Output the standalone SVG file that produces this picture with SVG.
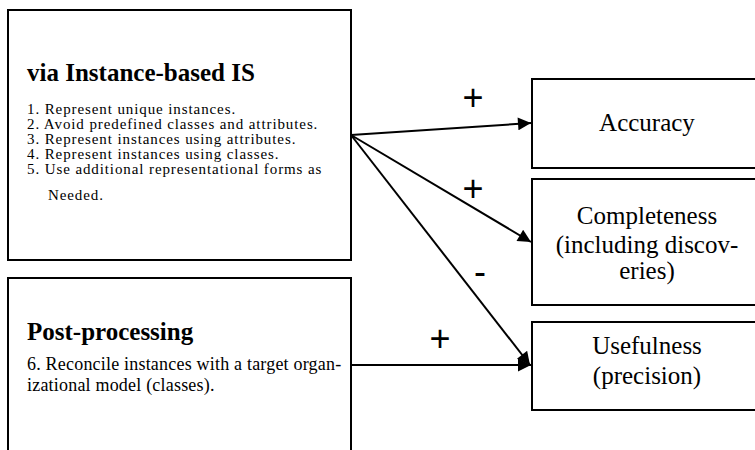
<svg xmlns="http://www.w3.org/2000/svg" width="755" height="450" viewBox="0 0 755 450">
  <style>
    .box { fill: #ffffff; stroke: #000000; stroke-width: 2; }
    .title { font-family: "Liberation Serif", "Times New Roman", serif; font-weight: bold; font-size: 25px; fill: #000; }
    .item { font-family: "Liberation Serif", "Times New Roman", serif; font-size: 15px; letter-spacing: 0.9px; fill: #000; }
    .body { font-family: "Liberation Serif", "Times New Roman", serif; font-size: 18px; letter-spacing: 0.2px; fill: #000; }
    .outcome { font-family: "Liberation Serif", "Times New Roman", serif; font-size: 25px; fill: #000; text-anchor: middle; }
    .sign { font-family: "Liberation Sans", Arial, sans-serif; font-size: 36px; fill: #000; text-anchor: middle; }
    .link { fill: none; stroke: #000000; stroke-width: 2; marker-end: url(#arrow); }
  </style>
  <defs>
    <marker id="arrow" viewBox="0 0 10 10" refX="10" refY="5" markerWidth="7.5" markerHeight="6.5" markerUnits="strokeWidth" orient="auto">
      <path d="M0,0 L10,5 L0,10 z" fill="#000"/>
    </marker>
  </defs>

  <rect width="755" height="450" fill="#ffffff"/>

  <g id="instance-based-is">
    <rect class="box" x="8" y="10" width="343" height="250"/>
    <text class="title" x="27" y="81">via Instance-based IS</text>
    <text class="item" x="27" y="114">1. Represent unique instances.</text>
    <text class="item" x="27" y="129">2. Avoid predefined classes and attributes.</text>
    <text class="item" x="27" y="144">3. Represent instances using attributes.</text>
    <text class="item" x="27" y="159">4. Represent instances using classes.</text>
    <text class="item" x="27" y="174">5. Use additional representational forms as</text>
    <text class="item" x="48" y="200">Needed.</text>
  </g>

  <g id="post-processing">
    <rect class="box" x="8" y="278" width="343" height="185"/>
    <text class="title" x="27" y="340">Post-processing</text>
    <text class="body" x="27" y="370">6. Reconcile instances with a target organ-</text>
    <text class="body" x="27" y="391">izational model (classes).</text>
  </g>

  <g id="accuracy">
    <rect class="box" x="532" y="79" width="240" height="89"/>
    <text class="outcome" x="647" y="131">Accuracy</text>
  </g>

  <g id="completeness">
    <rect class="box" x="532" y="179" width="240" height="126"/>
    <text class="outcome" x="647" y="224">Completeness</text>
    <text class="outcome" x="647" y="253">(including discov-</text>
    <text class="outcome" x="647" y="279">eries)</text>
  </g>

  <g id="usefulness">
    <rect class="box" x="532" y="322" width="240" height="88"/>
    <text class="outcome" x="647" y="354">Usefulness</text>
    <text class="outcome" x="647" y="384">(precision)</text>
  </g>

  <g id="connectors">
    <line class="link" x1="351" y1="135" x2="531" y2="123"/>
    <line class="link" x1="351" y1="135" x2="531" y2="242"/>
    <line class="link" x1="351" y1="135" x2="530" y2="365"/>
    <line class="link" x1="351" y1="365" x2="531" y2="365"/>
    <text class="sign" x="473" y="110">+</text>
    <text class="sign" x="473" y="201">+</text>
    <text class="sign" x="480" y="284">-</text>
    <text class="sign" x="440" y="351">+</text>
  </g>
</svg>
